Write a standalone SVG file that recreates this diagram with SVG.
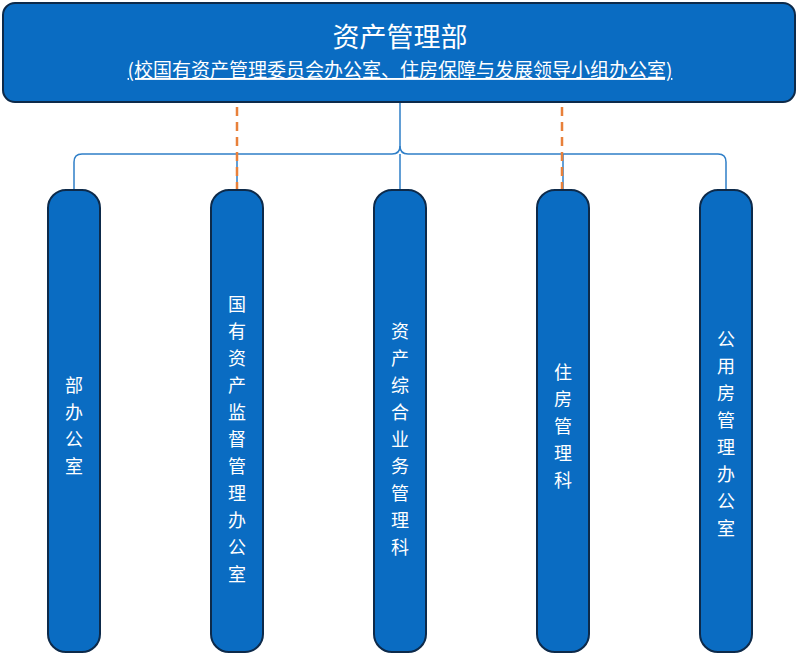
<svg xmlns="http://www.w3.org/2000/svg" width="798" height="658" viewBox="0 0 798 658">
<style>
.box{fill:#0a6cc2;stroke:#0d2a4a;stroke-width:2}
.t{fill:#fff;font-family:"Noto Sans CJK SC","Noto Sans",sans-serif;text-anchor:middle}
.v{font-size:18px}
.c{fill:none;stroke:#2f7fc8;stroke-width:1.5}
.d{fill:none;stroke:#e8803a;stroke-width:2.5;stroke-dasharray:9,6}
</style>
<rect width="798" height="658" fill="#fff"/>
<g id="connectors">
<path class="c" d="M400 102V146q0 8 -8 8H82q-8 0 -8 8V190"/>
<path class="c" d="M400 146q0 8 8 8H718q8 0 8 8V190"/>
<path class="c" d="M237 154V190M400 154V190M563 154V190"/>
<path class="d" d="M237 92V190M562 92V190"/>
</g>
<g id="top">
<rect class="box" x="3" y="3" width="792" height="99" rx="12"/>
<text class="t" x="400" y="47" font-size="27">资产管理部</text>
<text class="t" x="400" y="77" font-size="19" text-decoration="underline">(校国有资产管理委员会办公室、住房保障与发展领导小组办公室)</text>
</g>
<g id="n1"><rect class="box" x="48" y="190" width="52" height="462" rx="18"/>
<text class="t v"><tspan x="74" y="392">部</tspan><tspan x="74" y="419">办</tspan><tspan x="74" y="446">公</tspan><tspan x="74" y="473">室</tspan></text></g>
<g id="n2"><rect class="box" x="211" y="190" width="52" height="462" rx="18"/>
<text class="t v"><tspan x="237" y="311">国</tspan><tspan x="237" y="338">有</tspan><tspan x="237" y="365">资</tspan><tspan x="237" y="392">产</tspan><tspan x="237" y="419">监</tspan><tspan x="237" y="446">督</tspan><tspan x="237" y="473">管</tspan><tspan x="237" y="500">理</tspan><tspan x="237" y="527">办</tspan><tspan x="237" y="554">公</tspan><tspan x="237" y="581">室</tspan></text></g>
<g id="n3"><rect class="box" x="374" y="190" width="52" height="462" rx="18"/>
<text class="t v"><tspan x="400" y="338">资</tspan><tspan x="400" y="365">产</tspan><tspan x="400" y="392">综</tspan><tspan x="400" y="419">合</tspan><tspan x="400" y="446">业</tspan><tspan x="400" y="473">务</tspan><tspan x="400" y="500">管</tspan><tspan x="400" y="527">理</tspan><tspan x="400" y="554">科</tspan></text></g>
<g id="n4"><rect class="box" x="537" y="190" width="52" height="462" rx="18"/>
<text class="t v"><tspan x="563" y="379">住</tspan><tspan x="563" y="406">房</tspan><tspan x="563" y="433">管</tspan><tspan x="563" y="460">理</tspan><tspan x="563" y="487">科</tspan></text></g>
<g id="n5"><rect class="box" x="700" y="190" width="52" height="462" rx="18"/>
<text class="t v"><tspan x="726" y="346">公</tspan><tspan x="726" y="373">用</tspan><tspan x="726" y="400">房</tspan><tspan x="726" y="427">管</tspan><tspan x="726" y="454">理</tspan><tspan x="726" y="481">办</tspan><tspan x="726" y="508">公</tspan><tspan x="726" y="535">室</tspan></text></g>
</svg>
